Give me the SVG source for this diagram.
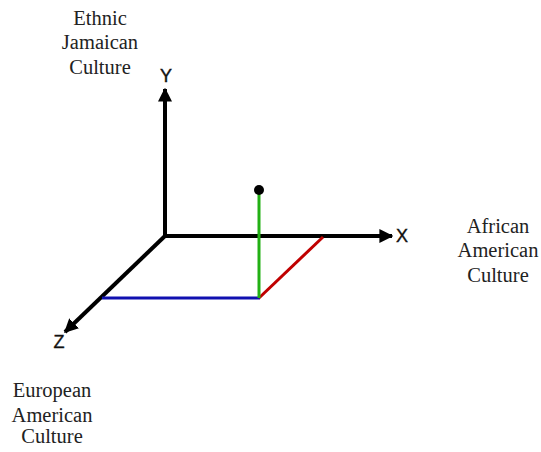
<svg xmlns="http://www.w3.org/2000/svg" width="541" height="452" viewBox="0 0 541 452">
<style>
.lbl{font-family:"Liberation Serif","Times New Roman",serif;font-size:20.5px;fill:#222;text-anchor:middle}
.ax{font-family:"Liberation Sans",Arial,sans-serif;font-size:18px;fill:#111;text-anchor:middle;stroke:#111;stroke-width:0.4}
.axis{stroke:#000;stroke-width:4;fill:none}
</style>
<defs>
<marker id="ah" viewBox="0 0 10 10" refX="9" refY="5" markerWidth="3.5" markerHeight="3.5" orient="auto" markerUnits="strokeWidth">
<path d="M0,0 L10,5 L0,10 Z" fill="#000"/>
</marker>
</defs>
<rect width="541" height="452" fill="#fff"/>
<g id="connectors">
<line class="axis" x1="165" y1="236" x2="165" y2="89" marker-end="url(#ah)"/>
<line class="axis" x1="163" y1="236" x2="392" y2="236" marker-end="url(#ah)"/>
<line class="axis" x1="166" y1="235" x2="65" y2="332" marker-end="url(#ah)"/>
<line x1="102" y1="298" x2="260" y2="298" stroke="#1010b0" stroke-width="3"/>
<line x1="259" y1="298" x2="323" y2="237" stroke="#c00000" stroke-width="3"/>
<line x1="259" y1="298" x2="259" y2="191" stroke="#22b014" stroke-width="3"/>
</g>
<g id="point"><circle cx="259" cy="190" r="5" fill="#000"/></g>
<g id="y-label"><text class="ax" x="166" y="82">Y</text></g>
<g id="x-label"><text class="ax" x="402" y="242">X</text></g>
<g id="z-label"><text class="ax" x="59" y="348">Z</text></g>
<g id="ethnic-jamaican">
<text class="lbl" x="100" y="25">Ethnic</text>
<text class="lbl" x="100" y="49">Jamaican</text>
<text class="lbl" x="100" y="74">Culture</text>
</g>
<g id="african-american">
<text class="lbl" x="498" y="233">African</text>
<text class="lbl" x="498" y="257">American</text>
<text class="lbl" x="498" y="282">Culture</text>
</g>
<g id="european-american">
<text class="lbl" x="52" y="397">European</text>
<text class="lbl" x="52" y="422">American</text>
<text class="lbl" x="52" y="443">Culture</text>
</g>
</svg>
